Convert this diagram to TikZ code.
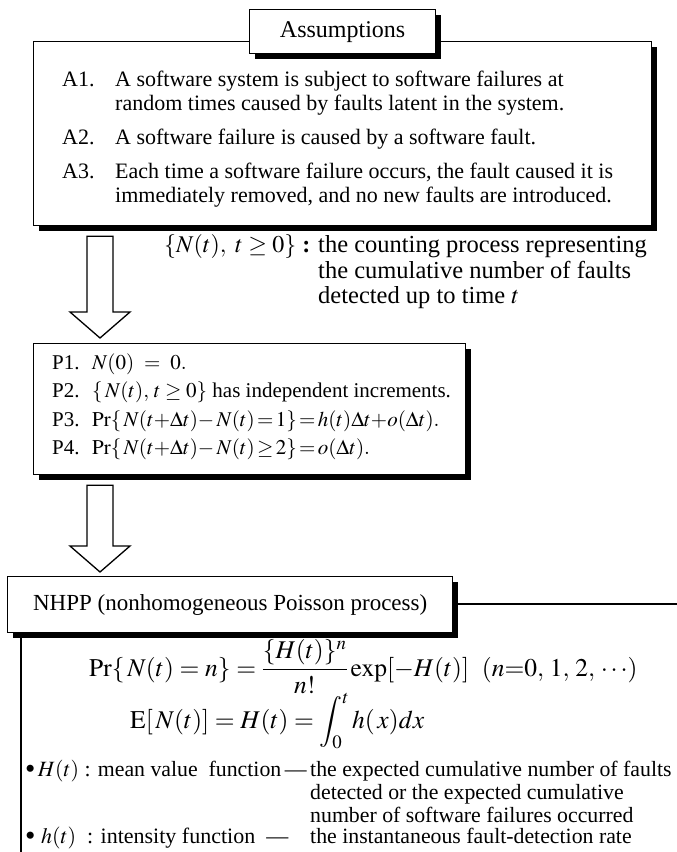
\documentclass[tikz,border=0pt]{standalone}
\usepackage{mathptmx}
\usepackage{fontspec}
\setmainfont{Liberation Serif}
\usetikzlibrary{shadows,calc}
\newcommand\tightrel{\thickmuskip=2mu\relax\medmuskip=1mu\relax}
\newcommand\looserel{\thickmuskip=4mu\relax\medmuskip=2mu\relax}
\newcommand\bigdot{\raisebox{-0.12em}{\scalebox{1.35}{•}}}
\begin{document}
\begin{tikzpicture}[x=1pt,y=-1pt,
  shbox/.style={draw, line width=1.3pt, fill=white, inner sep=0pt,
    drop shadow={shadow xshift=5pt, shadow yshift=-5pt, fill=black, opacity=1}},
  atext/.style={anchor=base west, inner sep=0pt, font=\fontsize{22}{24}\selectfont},
  ptext/.style={anchor=base west, inner sep=0pt, font=\fontsize{21}{24}\selectfont},
  ntext/.style={anchor=base west, inner sep=0pt, font=\fontsize{24.5}{27}\selectfont},
  btext/.style={anchor=base west, inner sep=0pt, font=\fontsize{21.8}{24}\selectfont},
  ftext/.style={anchor=base west, inner sep=0pt, font=\fontsize{25.5}{29}\selectfont},
  hollow/.style={draw, line width=1.3pt, fill=white, line join=miter},
  rule/.style={line width=1.1pt}
]
\fill[white] (0,0) rectangle (677,852);
\useasboundingbox (0,0) rectangle (677,852);

% assumptions
\node[shbox, minimum width=618pt, minimum height=184pt, anchor=north west] (abox) at (33,41) {};
\node[shbox, minimum width=186pt, minimum height=44pt, anchor=north west,
  font=\fontsize{24}{26}\selectfont] (title) at (249,9) {Assumptions};

\node[atext] (a1l) at (62,86)  {A1.};
\node[atext] (a1a) at (115,86) {A software system is subject to software failures at};
\node[atext] (a1b) at (115,110) {random times caused by faults latent in the system.};
\node[atext] (a2l) at (62,144) {A2.};
\node[atext] (a2a) at (115,144) {A software failure is caused by a software fault.};
\node[atext] (a3l) at (62,178) {A3.};
\node[atext] (a3a) at (115,178) {Each time a software failure occurs, the fault caused it is};
\node[atext] (a3b) at (115,202) {immediately removed, and no new faults are introduced.};

% counting process
\node[anchor=base west, inner sep=0pt, font=\fontsize{24}{26}\selectfont] (nhead) at (164,252)
  {$\{N(t),\ t\ge 0\}$ \textbf{:}};
\node[ntext] (nt1) at (318,252) {the counting process representing};
\node[ntext] (nt2) at (318,278) {the cumulative number of faults};
\node[ntext] (nt3) at (318,303) {detected up to time $t$};

% properties
\node[shbox, minimum width=432pt, minimum height=131pt, anchor=north west] (pbox) at (33,343) {};
\node[ptext] (p1l) at (52,369) {P1.};
\node[ptext] (p1a) at (92,369) {$N(0)\ =\ 0.$};
\node[ptext] (p2l) at (52,397) {P2.};
\node[ptext] (p2a) at (92,397) {$\{\,N(t),\,t\ge 0\}$ has independent increments.};
\node[ptext] (p3l) at (52,426) {P3.};
\node[ptext] (p3a) at (92,426) {\tightrel$\mathrm{Pr}\{\,N(t{+}\Delta t){-}\,N(t)=1\}=h(t)\Delta t{+}o(\Delta t).$};
\node[ptext] (p4l) at (52,454) {P4.};
\node[ptext] (p4a) at (92,454) {\tightrel$\mathrm{Pr}\{\,N(t{+}\Delta t){-}\,N(t)\ge 2\}=o(\Delta t).$};

% NHPP
\node[shbox, minimum width=445pt, minimum height=56pt, anchor=north west,
  font=\fontsize{23}{25}\selectfont] (nbox) at (7,576) {NHPP (nonhomogeneous Poisson process)};
\coordinate (redge) at (677,604);
\coordinate (vbot) at (21,852);
\draw[rule] (nbox.east |- redge) -- (redge);
\draw[rule] (vbot |- nbox.south) -- (vbot);

\node[ftext] (prf) at (89,676)
  {\looserel$\displaystyle \mathrm{Pr}\{\,N(t)=n\}=\frac{\{H(t)\}^{n}}{n!}\exp[-H(t)]\ \ (n{=}0,\,1,\,2,\,\cdots)$};
\node[ftext] (efm) at (130,728)
  {\looserel$\displaystyle \mathrm{E}[\,N(t)]=H(t)=\int_0^t h(\,x)dx$};

\node[btext] (b1) at (25,776) {\bigdot$\,H(t)$ : mean value\ \ function\,—};
\node[btext] (b1a) at (310,776) {the expected cumulative number of faults};
\node[btext] (b1b) at (310,799) {detected or the expected cumulative};
\node[btext] (b1c) at (310,822) {number of software failures occurred};
\node[btext, font=\fontsize{22}{24}\selectfont] (b2) at (25,843) {\bigdot\ $h(t)$\ \ : intensity function\ \ —};
\node[btext] (b2a) at (310,843) {the instantaneous fault-detection rate};

% block arrows
\coordinate (ar1s) at ($(abox.south west)+(67,10)$);
\coordinate (ar1e) at ($(ar1s |- pbox.north)+(0,-5)$);
\coordinate (ar2s) at ($(pbox.south west)+(67,10)$);
\coordinate (ar2e) at ($(ar2s |- nbox.north)+(0,-4)$);
\foreach \s/\e in {ar1s/ar1e, ar2s/ar2e}{
  \draw[hollow] let \p1=(\s), \p2=(\e) in
    (\x1-13pt,\y1) -- (\x1+13pt,\y1) -- (\x1+13pt,\y2+26pt) -- (\x1+30pt,\y2+26pt)
    -- (\x2,\y2) -- (\x1-30pt,\y2+26pt) -- (\x1-13pt,\y2+26pt) -- cycle;
}
\end{tikzpicture}
\end{document}
